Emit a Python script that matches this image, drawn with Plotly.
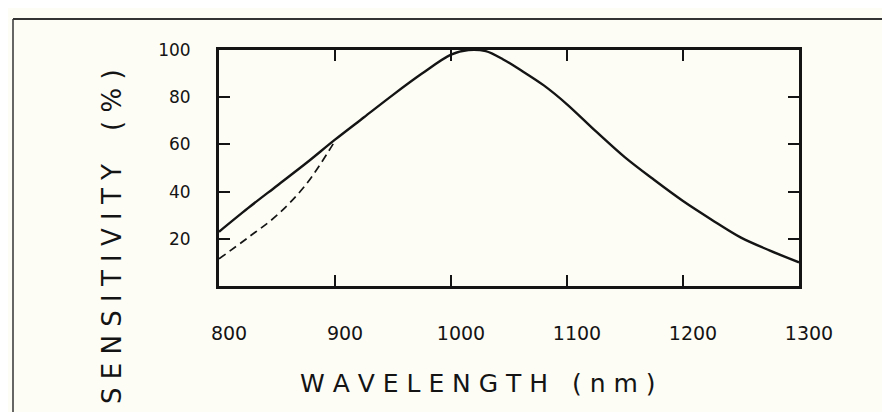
import plotly.graph_objects as go

# Data
wavelength = [800, 825, 850, 875, 900, 925, 950, 975, 1000, 1015, 1030, 1045,
              1060, 1080, 1100, 1125, 1150, 1175, 1200, 1225, 1250, 1275, 1300]
sensitivity = [23, 33, 42.5, 52, 62, 71.5, 81, 90, 98, 100, 99.5, 96,
               91.5, 85, 77, 65.5, 54.5, 45, 36, 28, 20.5, 15, 10]

dashed_wavelength = [800, 825, 850, 875, 900]
dashed_sensitivity = [11.5, 20.5, 30, 43, 61.5]

x_ticks = [800, 900, 1000, 1100, 1200, 1300]
x_tick_labels = ["800", "900", "1000", "1100", "1200", "1300"]
y_ticks = [20, 40, 60, 80, 100]
y_tick_labels = ["20", "40", "60", "80", "100"]

x_title = "W A V E L E N G T H &nbsp; ( n m )"
y_title = "S E N S I T I V I T Y &nbsp;&nbsp; ( % )"

FONT = "DejaVu Sans"
INK = "#141414"
PAPER = "#fdfdf6"

W, H = 890, 412
ML, MR, MT, MB = 211, 99, 42, 134
pw, ph = W - ML - MR, H - MT - MB


def px_x(p):
    return (p - ML) / pw


def px_y(p):
    return (H - MB - p) / ph


fig = go.Figure()
fig.add_trace(go.Scatter(x=dashed_wavelength, y=dashed_sensitivity, mode="lines",
                         line=dict(color=INK, width=1.7, dash="8px,5px", shape="spline"),
                         hoverinfo="skip", showlegend=False))
fig.add_trace(go.Scatter(x=wavelength, y=sensitivity, mode="lines",
                         line=dict(color=INK, width=2.4, shape="spline", smoothing=0.9),
                         showlegend=False))

axis_common = dict(showgrid=False, zeroline=False, showline=True, linecolor=INK,
                   linewidth=2.8, mirror="ticks", ticks="inside", ticklen=11,
                   tickwidth=2, tickcolor=INK)

fig.update_xaxes(range=[800, 1300], tickvals=x_ticks, ticktext=x_tick_labels,
                 ticklabelstandoff=28, ticklabelshift=10,
                 tickfont=dict(family=FONT, size=19, color=INK),
                 **axis_common)
fig.update_yaxes(range=[0, 100], tickvals=y_ticks, ticktext=y_tick_labels,
                 ticklabelstandoff=22,
                 tickfont=dict(family=FONT, size=17, color=INK),
                 **axis_common)

# axis titles (placed as in the hand-drawn original)
fig.add_annotation(text=x_title, xref="paper", yref="paper", x=px_x(470), y=px_y(375),
                   xanchor="center", yanchor="middle", showarrow=False,
                   font=dict(family=FONT, size=25, color=INK))
fig.add_annotation(text=y_title, xref="paper", yref="paper", x=px_x(104), y=px_y(229),
                   xanchor="center", yanchor="middle", showarrow=False, textangle=-90,
                   font=dict(family=FONT, size=26, color=INK))

# outer drawing frame (left and top edges)
fl = px_x(5)
ft = px_y(11)
fb = px_y(H + 5)
fr = px_x(W + 5)
fig.add_shape(type="line", xref="paper", yref="paper", x0=fl, x1=fl, y0=fb, y1=ft,
              line=dict(color="#333", width=1.5))
fig.add_shape(type="line", xref="paper", yref="paper", x0=fl, x1=fr, y0=ft, y1=ft,
              line=dict(color="#333", width=2))

fig.update_layout(width=W, height=H, margin=dict(l=ML, r=MR, t=MT, b=MB),
                  paper_bgcolor=PAPER, plot_bgcolor=PAPER, showlegend=False)

fig.write_html("out.html")
